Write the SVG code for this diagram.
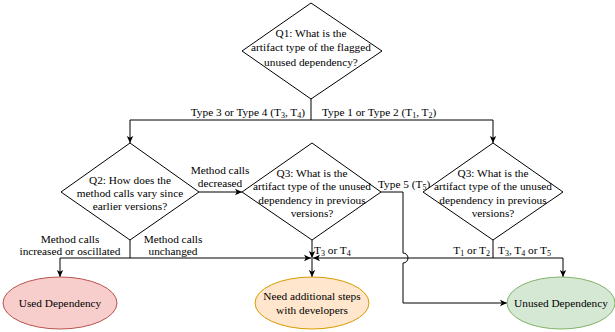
<svg xmlns="http://www.w3.org/2000/svg" width="615" height="332" viewBox="0 0 615 332">
<style>
text{font-family:"Liberation Serif","Times New Roman",Times,serif;font-size:11.3px;fill:#000;}
.c{text-anchor:middle}
.e{text-anchor:end}
.d{fill:#fff;stroke:#000;stroke-width:1}
.l{fill:none;stroke:#000;stroke-width:1}
.sub{font-size:8px}
</style>
<defs>
<marker id="a" markerWidth="8" markerHeight="8" refX="7" refY="4" orient="auto" markerUnits="userSpaceOnUse">
<path d="M0,0.8 L7,4 L0,7.2 L1.8,4 Z" fill="#000"/>
</marker>
</defs>
<rect width="615" height="332" fill="#fff"/>
<g id="connectors">
<path class="l" d="M311,98 V120"/>
<path class="l" d="M311,120 H130 V143" marker-end="url(#a)"/>
<path class="l" d="M311,120 H493 V143" marker-end="url(#a)"/>
<path class="l" d="M199,192 H242" marker-end="url(#a)"/>
<path class="l" d="M130,240 V258 H60 V277" marker-end="url(#a)"/>
<path class="l" d="M130,258 H311" marker-end="url(#a)"/>
<path class="l" d="M312,240 V258" marker-end="url(#a)"/>
<path class="l" d="M312,258 V277" marker-end="url(#a)"/>
<path class="l" d="M493,240 V258 H313" marker-end="url(#a)"/>
<path class="l" d="M493,258 H563 V277" marker-end="url(#a)"/>
<path class="l" d="M381,192 H403 V253 A5,5 0 0 1 403,263 V303 H507" marker-end="url(#a)"/>
<text class="e" x="305" y="116">Type 3 or Type 4 (T<tspan class="sub" dy="2">3</tspan><tspan dy="-2">, T</tspan><tspan class="sub" dy="2">4</tspan><tspan dy="-2">)</tspan></text>
<text x="322" y="116">Type 1 or Type 2 (T<tspan class="sub" dy="2">1</tspan><tspan dy="-2">, T</tspan><tspan class="sub" dy="2">2</tspan><tspan dy="-2">)</tspan></text>
<text class="c" x="220" y="174">Method calls</text>
<text class="c" x="220" y="187">decreased</text>
<text x="378" y="188">Type 5 (T<tspan class="sub" dy="2">5</tspan><tspan dy="-2">)</tspan></text>
<text class="c" x="70" y="243">Method calls</text>
<text class="c" x="70" y="255">increased or oscillated</text>
<text class="c" x="173" y="243">Method calls</text>
<text class="c" x="173" y="255">unchanged</text>
<text x="314" y="254">T<tspan class="sub" dy="2">3</tspan><tspan dy="-2"> or T</tspan><tspan class="sub" dy="2">4</tspan></text>
<text class="e" x="490" y="254">T<tspan class="sub" dy="2">1</tspan><tspan dy="-2"> or T</tspan><tspan class="sub" dy="2">2</tspan></text>
<text x="498" y="254">T<tspan class="sub" dy="2">3</tspan><tspan dy="-2">, T</tspan><tspan class="sub" dy="2">4</tspan><tspan dy="-2"> or T</tspan><tspan class="sub" dy="2">5</tspan></text>
</g>
<g id="q1">
<polygon class="d" points="311,3 382,51 311,99 242,51"/>
<text class="c" x="311" y="37">Q1: What is the</text>
<text class="c" x="311" y="51">artifact type of the flagged</text>
<text class="c" x="311" y="66">unused dependency?</text>
</g>
<g id="q2">
<polygon class="d" points="130,143 199,192 130,240 61,192"/>
<text class="c" x="130" y="184">Q2: How does the</text>
<text class="c" x="130" y="197">method calls vary since</text>
<text class="c" x="130" y="210">earlier versions?</text>
</g>
<g id="q3a">
<polygon class="d" points="312,143 381,192 312,240 242,192"/>
<text class="c" x="312" y="177">Q3: What is the</text>
<text class="c" x="312" y="190">artifact type of the unused</text>
<text class="c" x="312" y="204">dependency in previous</text>
<text class="c" x="312" y="217">versions?</text>
</g>
<g id="q3b">
<polygon class="d" points="493,143 563,192 493,240 423,192"/>
<text class="c" x="493" y="177">Q3: What is the</text>
<text class="c" x="493" y="190">artifact type of the unused</text>
<text class="c" x="493" y="204">dependency in previous</text>
<text class="c" x="493" y="217">versions?</text>
</g>
<g id="used">
<ellipse cx="60" cy="303" rx="57" ry="26" fill="#f8cecc" stroke="#b85450"/>
<text class="c" x="60" y="307">Used Dependency</text>
</g>
<g id="need">
<ellipse cx="312" cy="303" rx="57" ry="26" fill="#ffe6cc" stroke="#d79b00"/>
<text class="c" x="312" y="300">Need additional steps</text>
<text class="c" x="312" y="314">with developers</text>
</g>
<g id="unused">
<ellipse cx="561" cy="303" rx="54" ry="26" fill="#d5e8d4" stroke="#82b366"/>
<text class="c" x="561" y="307">Unused Dependency</text>
</g>
</svg>
